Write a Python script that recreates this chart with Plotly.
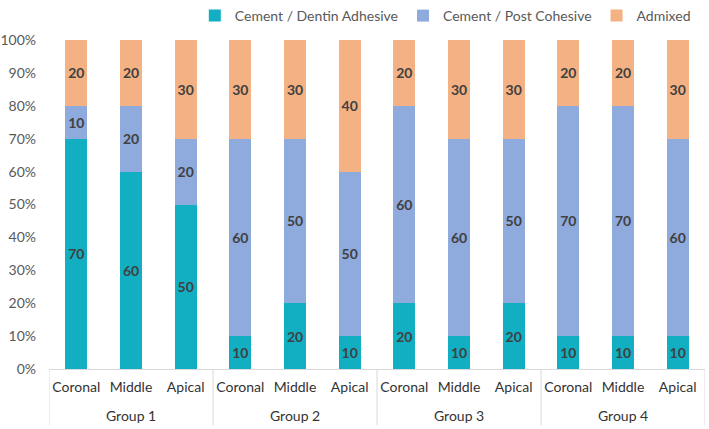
import plotly.graph_objects as go

group_names = ["Group 1", "Group 2", "Group 3", "Group 4"]
regions = ["Coronal", "Middle", "Apical"] * 4

adhesive = [70, 60, 50, 10, 20, 10, 20, 10, 20, 10, 10, 10]
cohesive = [10, 20, 20, 60, 50, 50, 60, 60, 50, 70, 70, 60]
admixed = [20, 20, 30, 30, 30, 40, 20, 30, 30, 20, 20, 30]

series = [
    ("Cement / Dentin Adhesive", adhesive, "#12AEC1"),
    ("Cement / Post Cohesive", cohesive, "#8FAADC"),
    ("Admixed", admixed, "#F4B183"),
]

font_family = "Lato, 'Open Sans', sans-serif"
xpos = list(range(len(regions)))
per_group = len(regions) // len(group_names)

fig = go.Figure()
for name, vals, color in series:
    fig.add_trace(go.Bar(
        x=xpos,
        y=vals,
        name=name,
        marker=dict(color=color, line=dict(width=0)),
        text=[str(v) for v in vals],
        textposition="inside",
        insidetextanchor="middle",
        textangle=0,
        constraintext="none",
        textfont=dict(color="#404040", size=14, family=font_family, weight="bold"),
        hoverinfo="skip",
    ))

# group labels and dividers, positioned on the x data scale
for gi, g in enumerate(group_names):
    center = gi * per_group + (per_group - 1) / 2
    fig.add_annotation(
        x=center, xref="x", y=0, yref="paper", yshift=-46,
        text=g, showarrow=False, yanchor="middle",
        font=dict(size=14, color="#333333", family=font_family),
    )
for k in range(len(group_names) + 1):
    xb = k * per_group - 0.5
    fig.add_shape(
        type="line", xref="x", yref="paper",
        x0=xb, x1=xb, y0=0, y1=-0.171,
        line=dict(color="#D9D9D9", width=1),
    )

fig.update_layout(
    barmode="stack",
    bargap=0.6,
    width=709,
    height=429,
    margin=dict(l=49, r=4, t=40, b=60),
    paper_bgcolor="white",
    plot_bgcolor="white",
    font=dict(family=font_family, color="#595959", size=14),
    legend=dict(
        orientation="h",
        x=0.986, xanchor="right",
        y=1.0, yref="container", yanchor="top",
        font=dict(size=14, color="#595959"),
        traceorder="normal",
        bgcolor="rgba(0,0,0,0)",
        itemwidth=30,
    ),
    showlegend=True,
)

fig.update_xaxes(
    range=[-0.5, len(regions) - 0.5],
    tickmode="array",
    tickvals=xpos,
    ticktext=regions,
    showline=True,
    linecolor="#D9D9D9",
    linewidth=1,
    ticks="",
    tickangle=0,
    ticklabelstandoff=5,
    automargin=False,
    tickfont=dict(size=14, color="#333333"),
    showgrid=False,
    zeroline=False,
)
fig.update_yaxes(
    range=[0, 100],
    dtick=10,
    ticksuffix="%",
    showgrid=False,
    zeroline=False,
    showline=False,
    automargin=False,
    ticklabelstandoff=12,
    tickfont=dict(size=14, color="#595959"),
    ticks="",
)

fig.write_html("out.html")
